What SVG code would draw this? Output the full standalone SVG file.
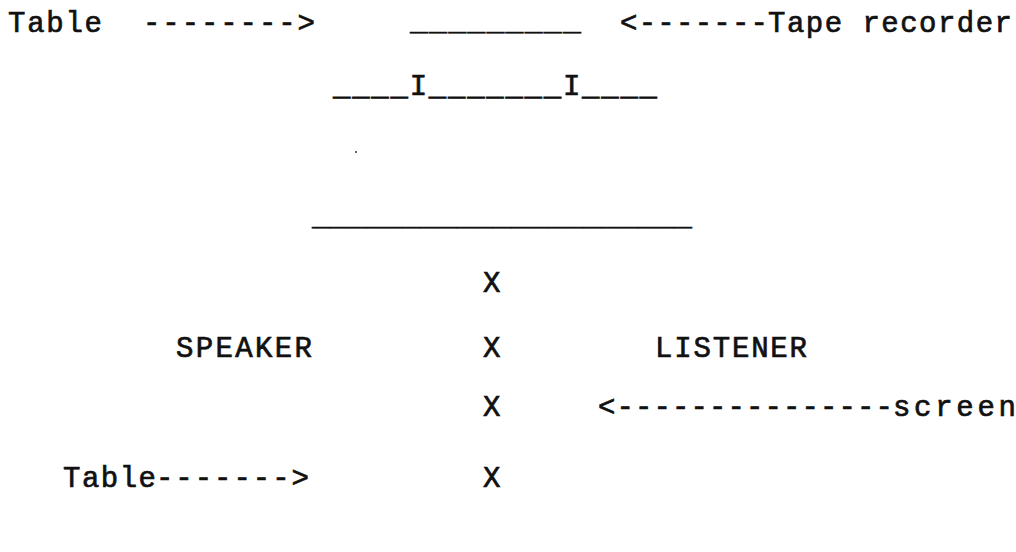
<svg xmlns="http://www.w3.org/2000/svg" width="1016" height="552" viewBox="0 0 1016 552">
  <style>
    .t { font-family: "Liberation Mono", "DejaVu Sans Mono", monospace; font-size: 29px; fill: #111; stroke: #111; stroke-width: 0.7px; }
    .u { font-family: "Liberation Mono", "DejaVu Sans Mono", monospace; font-size: 30px; fill: #111; stroke: #111; stroke-width: 0.5px; }
  </style>
  <rect width="1016" height="552" fill="#ffffff"/>
  <g id="table-top">
    <text class="t" x="8" y="32" textLength="94" lengthAdjust="spacing">Table</text>
  </g>
  <g id="tape-recorder">
    <text class="u" x="410" y="30" textLength="171" lengthAdjust="spacing">_________</text>
    <text class="t" x="768" y="32" textLength="244" lengthAdjust="spacing">Tape recorder</text>
  </g>
  <g id="table-assembly">
    <text class="t" x="333" y="95" textLength="324" lengthAdjust="spacing">____I_______I____</text>
    <text class="u" x="312" y="225" textLength="380" lengthAdjust="spacing">_____________________</text>
    <circle cx="356" cy="152" r="1" fill="#333"/>
  </g>
  <g id="screen-x">
    <text class="t" x="483" y="292">X</text>
    <text class="t" x="483" y="357">X</text>
    <text class="t" x="483" y="416">X</text>
    <text class="t" x="483" y="487">X</text>
  </g>
  <g id="speaker">
    <text class="t" x="176" y="357" textLength="136" lengthAdjust="spacing">SPEAKER</text>
  </g>
  <g id="listener">
    <text class="t" x="655" y="357" textLength="152" lengthAdjust="spacing">LISTENER</text>
  </g>
  <g id="screen">
    <text class="t" x="893" y="416" textLength="123" lengthAdjust="spacing">screen</text>
  </g>
  <g id="table-bottom">
    <text class="t" x="63" y="487" textLength="93" lengthAdjust="spacing">Table</text>
  </g>
  <g id="connectors">
    <text class="t" x="143" y="32" textLength="172" lengthAdjust="spacing">--------&gt;</text>
    <text class="t" x="620" y="32" textLength="148" lengthAdjust="spacing">&lt;-------</text>
    <text class="t" x="598" y="416" textLength="295" lengthAdjust="spacing">&lt;---------------</text>
    <text class="t" x="156" y="487" textLength="153" lengthAdjust="spacing">-------&gt;</text>
  </g>
</svg>
